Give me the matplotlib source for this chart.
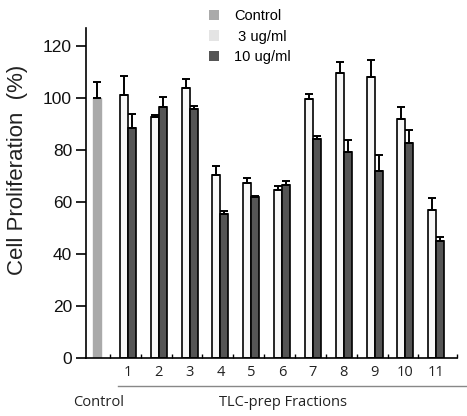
import matplotlib
matplotlib.use("Agg")
import matplotlib.pyplot as plt
import numpy as np
from matplotlib.patches import Patch
from matplotlib.lines import Line2D

fractions = ["1", "2", "3", "4", "5", "6", "7", "8", "9", "10", "11"]
control_value = 100
control_err = 6
low_dose = [101, 92.7, 104, 70.6, 67.2, 64.6, 99.6, 109.7, 108.2, 91.8, 56.9]
low_err = [7.5, 0.8, 3.4, 3.4, 2.2, 1.5, 1.8, 4.3, 6.4, 4.6, 4.5]
high_dose = [88.5, 96.5, 95.8, 55.4, 62, 66.4, 84.3, 79.4, 71.9, 82.8, 45.1]
high_err = [5.3, 3.8, 1.2, 1.1, 0.4, 1.9, 1.2, 4.6, 6.1, 5.0, 1.6]
legend_labels = ["Control", " 3 ug/ml", "10 ug/ml"]

fig = plt.figure(figsize=(4.67, 4.16), dpi=100)
ax = fig.add_axes([0.184, 0.139, 0.795, 0.794])

w = 0.26
x = np.arange(1, len(fractions) + 1)
ekw = dict(ecolor="black", elinewidth=1.4, capsize=3, capthick=1.4)

ax.bar([0], [control_value], width=w, color="#aaaaaa", edgecolor="#aaaaaa",
       yerr=[[0], [control_err]], error_kw=ekw, zorder=2)
ax.bar(x - w / 2, low_dose, width=w, color="#f7f7f7", edgecolor="black", linewidth=1.2,
       yerr=[np.zeros(len(low_err)), low_err], error_kw=ekw, zorder=2)
ax.bar(x + w / 2, high_dose, width=w, color="#555555", edgecolor="black", linewidth=1.2,
       yerr=[np.zeros(len(high_err)), high_err], error_kw=ekw, zorder=2)

ax.set_xlim(-0.36, 11.68)
ax.set_ylim(0, 127)
ax.spines["top"].set_visible(False)
ax.spines["right"].set_visible(False)
ax.spines["left"].set_linewidth(1.2)
ax.spines["bottom"].set_linewidth(1.2)

ax.set_yticks([0, 20, 40, 60, 80, 100, 120])
ax.tick_params(axis="y", direction="out", length=7, width=1.2, labelsize=12.5, pad=3)
for lab in ax.get_yticklabels():
    lab.set_family("Liberation Sans")
    lab.set_color("#111111")

ax.set_xticks(x)
ax.set_xticklabels(fractions, family="Open Sans", fontsize=10.5, color="#222222")
ax.tick_params(axis="x", length=0, pad=5)
ax.set_xticks(np.append(x - 0.58, 11.68), minor=True)
ax.tick_params(axis="x", which="minor", direction="in", length=3, width=1)

ax.set_ylabel("Cell Proliferation  (%)", family="Liberation Sans", fontsize=16, color="#222222")
ax.yaxis.set_label_coords(-0.155, 0.57)

# bracket line under fraction labels
fig.add_artist(Line2D([118 / 467, 1.0], [1 - 386 / 416, 1 - 386 / 416],
                      color="#888888", linewidth=1.0))
fig.text(99 / 467, 1 - 403 / 416, "Control", family="Open Sans", fontsize=10.5,
         ha="center", va="center", color="#222222")
fig.text(283 / 467, 1 - 403 / 416, "TLC-prep Fractions", family="Open Sans", fontsize=10.5,
         ha="center", va="center", color="#222222")

handles = [Patch(facecolor="#aaaaaa", edgecolor="none"),
           Patch(facecolor="#e4e4e4", edgecolor="none"),
           Patch(facecolor="#555555", edgecolor="none")]
leg = fig.legend(handles, legend_labels, loc="upper left", bbox_to_anchor=(196 / 467, 1.01),
                 frameon=False, prop={"family": "Liberation Sans", "size": 10.5},
                 handlelength=0.7, handleheight=0.7, handletextpad=1.0, labelspacing=0.45)

fig.savefig("out.png", dpi=100)
